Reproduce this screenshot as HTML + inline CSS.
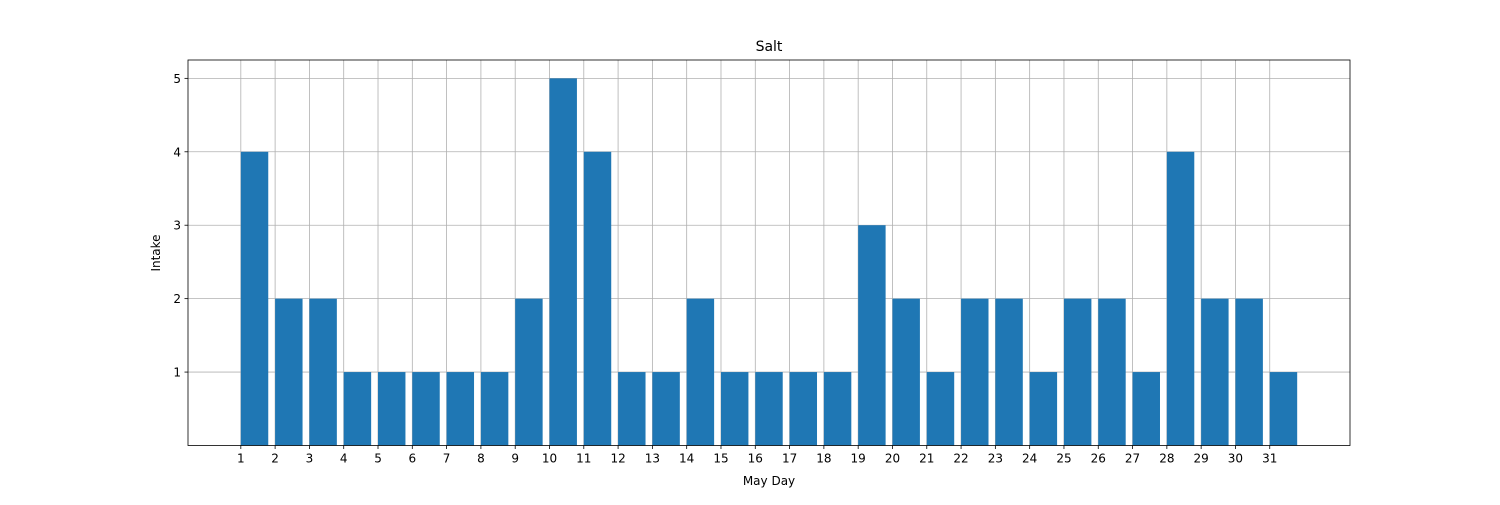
<!DOCTYPE html>
<html><head><meta charset="utf-8"><style>
body{margin:0;background:#fff;}
svg text{font-family:"DejaVu Sans","Liberation Sans",sans-serif;font-size:12px;fill:#000;}
</style></head><body>
<svg id="chart" width="1500" height="500">
<text x="769" y="51" text-anchor="middle" style="font-size:14px">Salt</text>
<text x="769" y="485" text-anchor="middle">May Day</text>
<text transform="translate(160,253) rotate(-90)" text-anchor="middle">Intake</text>
<g id="grid"></g><g id="bars"></g><g id="axes"></g>
</svg>
<script>
const days=[1,2,3,4,5,6,7,8,9,10,11,12,13,14,15,16,17,18,19,20,21,22,23,24,25,26,27,28,29,30,31];
const intake=[4,2,2,1,1,1,1,1,2,5,4,1,1,2,1,1,1,1,3,2,1,2,2,1,2,2,1,4,2,2,1];
const yTicks=[1,2,3,4,5];
const L=188,R=1350,T=60,B=445.5;
const xMin=days[0]-1.54,xMax=days[days.length-1]+0.8+1.54;
const yMax=Math.max(...intake)*1.05;
const xs=v=>L+(v-xMin)/(xMax-xMin)*(R-L);
const ys=v=>B-v/yMax*(B-T);
const NS="http://www.w3.org/2000/svg";
function mk(tag,attrs,parent){const e=document.createElementNS(NS,tag);for(const k in attrs)e.setAttribute(k,attrs[k]);parent.appendChild(e);return e;}
const grid=document.getElementById('grid'),bars=document.getElementById('bars'),axes=document.getElementById('axes');
days.forEach(d=>{
  const x=xs(d);
  const g=mk('line',{x1:x,x2:x,y1:T,y2:B,stroke:'#b0b0b0','stroke-width':0.8},grid);
  
  
  mk('line',{x1:x,x2:x,y1:B,y2:B+3.5,stroke:'#000','stroke-width':0.8},axes);
  const t=mk('text',{x:x,y:B+17,'text-anchor':'middle'},axes);t.textContent=d;
  
  
});
yTicks.forEach(v=>{
  const y=ys(v);
  const g=mk('line',{x1:L,x2:R,y1:y,y2:y,stroke:'#b0b0b0','stroke-width':0.8},grid);
  
  
  mk('line',{x1:L-3.5,x2:L,y1:y,y2:y,stroke:'#000','stroke-width':0.8},axes);
  const t=mk('text',{x:L-7,y:y+4.5,'text-anchor':'end'},axes);t.textContent=v;
  
  
});
days.forEach((d,i)=>{
  const x0=xs(d),x1=xs(d+0.8),y=ys(intake[i]);
  const r=mk('rect',{x:x0,y:y,width:x1-x0,height:B-y,fill:'#1f77b4'},bars);
  
  
});
const f=mk('rect',{x:L,y:T,width:R-L,height:B-T,fill:'none',stroke:'#000','stroke-width':0.8},axes);


</script>
</body></html>
